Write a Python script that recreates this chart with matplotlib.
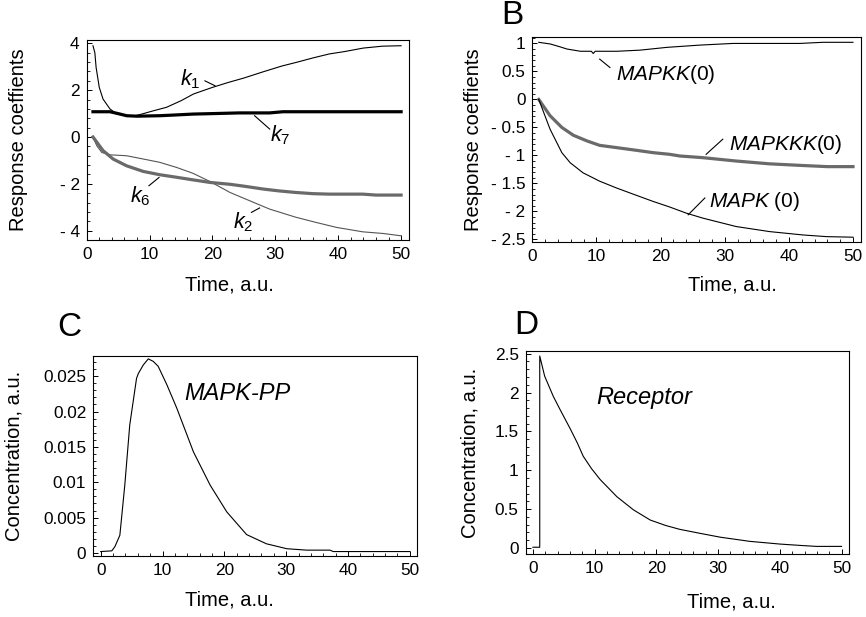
import matplotlib
matplotlib.use('Agg')
import matplotlib.pyplot as plt
from matplotlib.ticker import MultipleLocator


plt.rcParams['font.family'] = ['Liberation Sans', 'DejaVu Sans']
plt.rcParams['mathtext.fontset'] = 'custom'
plt.rcParams['mathtext.rm'] = 'Liberation Sans'
plt.rcParams['mathtext.it'] = 'Liberation Sans:italic'


# панель A: коэффициенты отклика по параметрам k
t_k1 = [1, 1.3, 1.5, 2, 2.6, 3.7, 4.8, 6.3, 7.5, 8.5, 10.6, 12.7, 15, 17, 20,
        22.5, 25, 28, 31, 33.5, 36, 38.6, 41, 44, 47, 50]
v_k1 = [3.9, 3.6, 2.97, 2.12, 1.62, 1.2, 0.98, 0.91, 0.9, 0.96, 1.12, 1.27, 1.55,
        1.84, 2.12, 2.33, 2.52, 2.78, 3.03, 3.2, 3.38, 3.55, 3.65, 3.8, 3.88, 3.9]

t_k7 = [1, 3.7, 5, 6.35, 8, 11.6, 14, 16.9, 20, 24.3, 29.1, 31.2, 35, 40, 45, 50]
v_k7 = [1.08, 1.08, 1.0, 0.91, 0.89, 0.91, 0.94, 0.98, 1.0, 1.03, 1.03, 1.08,
        1.08, 1.08, 1.08, 1.08]

t_k6 = [1, 2.6, 4.2, 6.35, 9, 11.6, 14.3, 16.9, 19.6, 22.8, 25, 28, 30.5, 33.3,
        36, 38.6, 43.9, 46, 50]
v_k6 = [0, -0.58, -0.94, -1.23, -1.47, -1.61, -1.72, -1.83, -1.94, -2.02, -2.1,
        -2.22, -2.3, -2.37, -2.42, -2.44, -2.44, -2.48, -2.48]

t_k2 = [1, 1.6, 2.4, 3.7, 6.35, 9, 11.6, 14.3, 16.9, 19.6, 22.8, 25.9, 29.1,
        33.3, 36.5, 39.7, 43.9, 47.1, 50]
v_k2 = [0, -0.37, -0.66, -0.76, -0.8, -0.94, -1.08, -1.3, -1.55, -1.9, -2.37,
        -2.72, -3.08, -3.43, -3.65, -3.86, -4.05, -4.12, -4.22]

# панель B: коэффициенты отклика по начальным концентрациям
t_mapkk = [1, 2.8, 4.3, 5.4, 7.5, 9.2, 9.5, 9.8, 11, 13.2, 16.8, 21, 26.1, 31.3,
           36, 41.7, 45.3, 50]
v_mapkk = [1.02, 0.99, 0.94, 0.9, 0.86, 0.86, 0.82, 0.86, 0.86, 0.86, 0.88, 0.93,
           0.97, 1.0, 1.0, 1.0, 1.02, 1.02]

t_mapkkk = [1, 2.76, 4.6, 6.4, 8.5, 10.5, 13.1, 15.7, 18.8, 21.4, 23, 26.6, 31.8,
            37, 42.2, 46, 50]
v_mapkkk = [0, -0.29, -0.5, -0.64, -0.74, -0.82, -0.86, -0.9, -0.95, -0.98, -1.01,
            -1.04, -1.1, -1.15, -1.18, -1.2, -1.2]

t_mapk = [1, 2.76, 4.6, 5.9, 7.9, 10.5, 13.1, 15.7, 18.8, 21.4, 24, 26.6, 31.8,
          37, 42.2, 45.9, 50]
v_mapk = [0, -0.53, -0.95, -1.13, -1.31, -1.46, -1.58, -1.69, -1.82, -1.92, -2.03,
          -2.12, -2.27, -2.36, -2.42, -2.45, -2.46]

# панель C: MAPK-PP
t_pp = [0, 1.8, 2.3, 3.1, 3.9, 4.7, 5.8, 6.1, 6.9, 7.7, 8.5, 9.3, 10.7, 12.3, 15,
        17.7, 20.4, 22.5, 23.6, 26.8, 30.1, 33.3, 37.1, 37.6, 50]
v_pp = [0.0002, 0.0003, 0.0009, 0.0025, 0.0096, 0.0181, 0.0247, 0.0254, 0.0266,
        0.02745, 0.0271, 0.0264, 0.0238, 0.0205, 0.0143, 0.0096, 0.0058, 0.0037,
        0.0026, 0.0013, 0.0006, 0.0004, 0.0004, 0.0002, 0.0002]

# панель D: рецептор
t_rec = [0, 1.1, 1.1, 1.9, 3.3, 4.4, 6.0, 7.2, 8.15, 9.5, 10.9, 13.6, 16.3, 19,
         21.5, 23.8, 27, 30.3, 35.1, 40, 43.2, 45.9, 50]
v_rec = [0.01, 0.01, 2.47, 2.21, 1.95, 1.78, 1.54, 1.35, 1.18, 1.02, 0.88, 0.66,
         0.49, 0.36, 0.29, 0.24, 0.19, 0.14, 0.086, 0.051, 0.034, 0.021, 0.021]

x_ticks = [0, 10, 20, 30, 40, 50]
yt_a = [4, 2, 0, -2, -4]
yl_a = ['4', '2', '0', '- 2', '- 4']
yt_b = [1, 0.5, 0, -0.5, -1, -1.5, -2, -2.5]
yl_b = ['1', '0.5', '0', '- 0.5', '- 1', '- 1.5', '- 2', '- 2.5']
yt_c = [0, 0.005, 0.01, 0.015, 0.02, 0.025]
yl_c = ['0', '0.005', '0.01', '0.015', '0.02', '0.025']
yt_d = [0, 0.5, 1, 1.5, 2, 2.5]
yl_d = ['0', '0.5', '1', '1.5', '2', '2.5']

GRAY = '#6a6a6a'
LAB = 14.5


def style_axes(ax, yt, yl, ymin_step):
    """Оформление в стиле Mathematica: засечки внутрь только слева и снизу"""
    ax.set_xticks(x_ticks)
    ax.set_xticklabels([str(x) for x in x_ticks])
    ax.set_yticks(yt)
    ax.set_yticklabels(yl)
    ax.xaxis.set_minor_locator(MultipleLocator(2))
    ax.yaxis.set_minor_locator(MultipleLocator(ymin_step))
    ax.tick_params(which='both', direction='in', top=False, right=False,
                   labelsize=12.4, pad=5)
    ax.tick_params(which='major', length=3.8, width=0.7)
    ax.tick_params(which='minor', length=2.0, width=0.6)
    for sp in ax.spines.values():
        sp.set_linewidth(0.8)


def labels(ax, ylab, ycoord, xcoord):
    ax.set_ylabel(ylab, fontsize=LAB)
    ax.yaxis.set_label_coords(*ycoord)
    ax.yaxis.label.set_verticalalignment('center')
    ax.set_xlabel('Time, a.u.', fontsize=LAB)
    ax.xaxis.set_label_coords(*xcoord)
    ax.xaxis.label.set_verticalalignment('center')


fig = plt.figure(figsize=(8.66, 6.17), dpi=100)

# --- A ---
ax = fig.add_axes([0.1001, 0.611, 0.3725, 0.324])
ax.plot(t_k1, v_k1, color='black', lw=0.8)
ax.plot(t_k2, v_k2, color='#555555', lw=0.8)
ax.plot(t_k6, v_k6, color=GRAY, lw=2.3)
ax.plot(t_k7, v_k7, color='black', lw=2.3)
ax.set_xlim(0, 51.3)
ax.set_ylim(-4.4, 4.14)
style_axes(ax, yt_a, yl_a, 0.4)
ax.text(16.4, 2.48, r'$k_1$', fontsize=15.5, ha='center', va='center')
ax.plot([18.8, 20.4], [2.4, 2.19], color='black', lw=0.8)
ax.text(30.7, 0.06, r'$k_7$', fontsize=15.5, ha='center', va='center')
ax.plot([26.7, 29.1], [0.91, 0.34], color='black', lw=0.8)
ax.text(8.5, -2.51, r'$k_6$', fontsize=15.5, ha='center', va='center')
ax.plot([9.9, 11.5], [-2.08, -1.73], color='black', lw=0.8)
ax.text(24.9, -3.65, r'$k_2$', fontsize=15.5, ha='center', va='center')
ax.plot([26.2, 27.5], [-3.22, -3.03], color='black', lw=0.8)
labels(ax, 'Response coeffients', (-0.21, 0.5), (0.444, -0.225))

# --- B ---
ax = fig.add_axes([0.6147, 0.6083, 0.3799, 0.3313])
ax.plot(t_mapkk, v_mapkk, color='black', lw=0.8)
ax.plot(t_mapkkk, v_mapkkk, color=GRAY, lw=2.3)
ax.plot(t_mapk, v_mapk, color='black', lw=0.8)
ax.set_xlim(0, 51.3)
ax.set_ylim(-2.54, 1.11)
style_axes(ax, yt_b, yl_b, 0.1)
ax.text(13.0, 0.45, r'$\mathit{MAPKK}$(0)', fontsize=15, ha='left', va='center')
ax.plot([10.5, 12.1], [0.72, 0.57], color='black', lw=0.8)
ax.text(30.6, -0.80, r'$\mathit{MAPKKK}$(0)', fontsize=15, ha='left', va='center')
ax.plot([27.1, 29.7], [-0.98, -0.71], color='black', lw=0.8)
ax.text(27.5, -1.82, r'$\mathit{MAPK}$ (0)', fontsize=15, ha='left', va='center')
ax.plot([24.3, 26.9], [-2.06, -1.76], color='black', lw=0.8)
labels(ax, 'Response coeffients', (-0.18, 0.5), (0.607, -0.212))

# --- C ---
ax = fig.add_axes([0.1077, 0.0984, 0.3741, 0.3251])
ax.plot(t_pp, v_pp, color='black', lw=0.8)
ax.set_xlim(-1.2, 51.2)
ax.set_ylim(-0.00047, 0.0279)
style_axes(ax, yt_c, yl_c, 0.001)
ax.text(13.5, 0.0225, 'MAPK-PP', fontsize=17, style='italic', ha='left', va='center')
labels(ax, 'Concentration, a.u.', (-0.245, 0.5), (0.419, -0.218))

# --- D ---
ax = fig.add_axes([0.607, 0.1026, 0.3733, 0.328])
ax.plot(t_rec, v_rec, color='black', lw=0.8)
ax.set_xlim(-1.18, 51.2)
ax.set_ylim(-0.073, 2.53)
style_axes(ax, yt_d, yl_d, 0.1)
ax.text(10.2, 1.94, 'Receptor', fontsize=17, style='italic', ha='left', va='center')
labels(ax, 'Concentration, a.u.', (-0.171, 0.5), (0.638, -0.239))

# буквы панелей
fig.text(512 / 866, 1 - 16 / 617, 'B', fontsize=24, ha='center', va='center')
fig.text(69 / 866, 1 - 327 / 617, 'C', fontsize=24, ha='center', va='center')
fig.text(526 / 866, 1 - 326 / 617, 'D', fontsize=24, ha='center', va='center')

fig.savefig('out.png', dpi=100)
